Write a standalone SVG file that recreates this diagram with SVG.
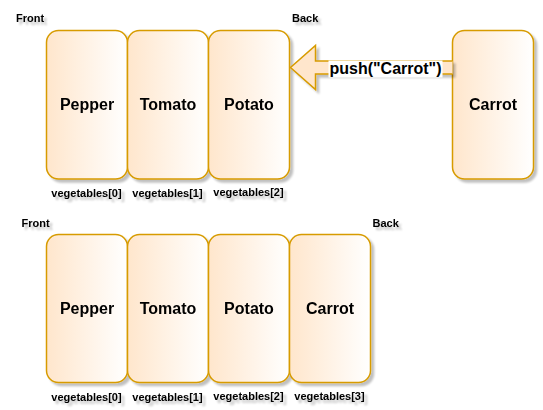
<svg xmlns="http://www.w3.org/2000/svg" width="543" height="410" viewBox="0 0 543 410">
<defs>
<linearGradient id="g" x1="0" y1="0" x2="1" y2="0">
<stop offset="0" stop-color="#ffe6cc"/>
<stop offset="1" stop-color="#ffffff"/>
</linearGradient>
<filter id="sh" x="-20%" y="-20%" width="140%" height="140%">
<feGaussianBlur in="SourceAlpha" stdDeviation="1.2"/>
<feOffset dx="3" dy="3" result="o"/>
<feComponentTransfer><feFuncA type="linear" slope="0.25"/></feComponentTransfer>
<feMerge><feMergeNode/><feMergeNode in="SourceGraphic"/></feMerge>
</filter>
</defs>
<style>
.box{fill:url(#g);stroke:#d79b00;stroke-width:1.5}
.t{font-family:"Liberation Sans",Arial,sans-serif;font-weight:bold;font-size:16px;fill:#000;text-anchor:middle}
.s{font-family:"Liberation Sans",Arial,sans-serif;font-weight:bold;font-size:11px;fill:#000}
.sm{text-anchor:middle}
</style>
<rect width="543" height="410" fill="#ffffff"/>
<g id="labels" filter="url(#sh)">
<text class="s" x="16" y="22">Front</text>
<text class="s" x="292" y="22">Back</text>
<text class="s" x="21.5" y="226.5">Front</text>
<text class="s" x="372.5" y="226.5">Back</text>
<text class="s sm" x="86.5" y="197">vegetables[0]</text>
<text class="s sm" x="167.5" y="197">vegetables[1]</text>
<text class="s sm" x="248.5" y="196">vegetables[2]</text>
<text class="s sm" x="86.5" y="401">vegetables[0]</text>
<text class="s sm" x="167.5" y="401">vegetables[1]</text>
<text class="s sm" x="248.5" y="400">vegetables[2]</text>
<text class="s sm" x="329.5" y="400">vegetables[3]</text>
</g>
<g id="n1" filter="url(#sh)"><rect class="box" x="46.5" y="30.5" width="81" height="148.5" rx="12"/><text class="t" x="87" y="110">Pepper</text></g>
<g id="n2" filter="url(#sh)"><rect class="box" x="127.5" y="30.5" width="81" height="148.5" rx="12"/><text class="t" x="168" y="110">Tomato</text></g>
<g id="n3" filter="url(#sh)"><rect class="box" x="208.5" y="30.5" width="81" height="148.5" rx="12"/><text class="t" x="249" y="110">Potato</text></g>
<g id="n4" filter="url(#sh)"><rect class="box" x="452.5" y="30.5" width="81" height="148.5" rx="12"/><text class="t" x="493" y="110">Carrot</text></g>
<g id="m1" filter="url(#sh)"><rect class="box" x="46.5" y="234.5" width="81" height="148" rx="12"/><text class="t" x="87" y="314">Pepper</text></g>
<g id="m2" filter="url(#sh)"><rect class="box" x="127.5" y="234.5" width="81" height="148" rx="12"/><text class="t" x="168" y="314">Tomato</text></g>
<g id="m3" filter="url(#sh)"><rect class="box" x="208.5" y="234.5" width="81" height="148" rx="12"/><text class="t" x="249" y="314">Potato</text></g>
<g id="m4" filter="url(#sh)"><rect class="box" x="289.5" y="234.5" width="81" height="148" rx="12"/><text class="t" x="330" y="314">Carrot</text></g>
<g id="connectors">
<path d="M452.5 61 L315.5 61 L315.5 45.5 L290.5 67.5 L315.5 89.5 L315.5 74 L452.5 74" fill="#ffe6cc" stroke="#d79b00" stroke-width="1.5" stroke-linejoin="miter" filter="url(#sh)"/>
<rect x="328.5" y="60.5" width="114" height="17" fill="#ffffff"/>
<text class="t" x="385.5" y="73.5">push("Carrot")</text>
</g>
</svg>
